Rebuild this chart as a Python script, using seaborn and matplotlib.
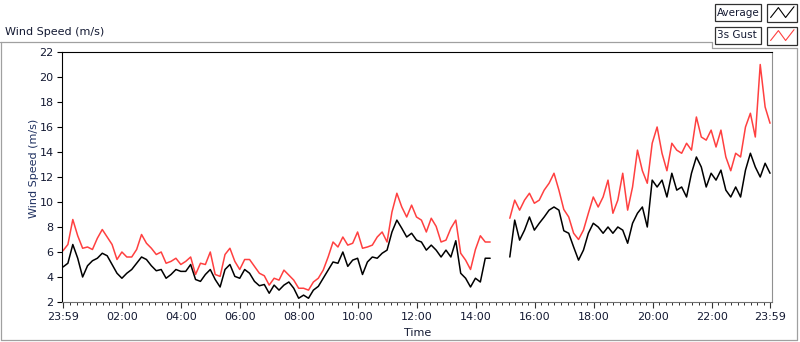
import numpy as np
import pandas as pd
import matplotlib
matplotlib.use("Agg")
import matplotlib.pyplot as plt
import seaborn as sns
from matplotlib.lines import Line2D
from matplotlib.patches import Rectangle
from matplotlib.ticker import FixedLocator

# readings every 10 min, minutes counted from 23:59 (nan = logger gap)
minutes = list(range(0, 1441, 10))

gust = [
    6.1, 6.6, 8.6, 7.3, 6.3, 6.4, 6.2, 7.1, 7.8, 7.2, 6.6, 5.4,
    6.0, 5.6, 5.6, 6.2, 7.4, 6.7, 6.3, 5.8, 6.0, 5.1, 5.25, 5.5,
    5.0, 5.25, 5.6, 4.2, 5.1, 5.0, 6.0, 4.2, 4.05, 5.8, 6.3, 5.25,
    4.6, 5.4, 5.4, 4.85, 4.3, 4.1, 3.35, 3.9, 3.75, 4.55, 4.15, 3.75,
    3.1, 3.1, 2.95, 3.6, 3.9, 4.55, 5.6, 6.8, 6.4, 7.2, 6.55, 6.7,
    7.6, 6.3, 6.4, 6.55, 7.2, 7.6, 6.8, 9.2, 10.7, 9.6, 8.8, 9.75,
    8.8, 8.55, 7.6, 8.7, 8.05, 6.8, 6.95, 7.9, 8.55, 5.9, 5.35, 4.6,
    6.2, 7.3, 6.8, 6.8, np.nan, np.nan, np.nan, 8.7, 10.15, 9.35, 10.15, 10.7,
    9.9, 10.15, 10.95, 11.5, 12.3, 10.95, 9.4, 8.8, 7.5, 7.0, 7.75, 9.1,
    10.4, 9.6, 10.4, 11.75, 9.1, 10.15, 12.3, 9.35, 11.2, 14.15, 12.5, 11.5,
    14.7, 16.0, 13.9, 12.5, 14.7, 14.15, 13.9, 14.7, 14.15, 16.8, 15.2, 14.95,
    15.75, 14.4, 15.75, 13.6, 12.5, 13.9, 13.6, 16.0, 17.1, 15.2, 21.0, 17.6,
    16.3,
]

average = [
    4.8, 5.1, 6.6, 5.5, 4.0, 4.9, 5.3, 5.5, 5.9, 5.7, 5.0, 4.3,
    3.9, 4.3, 4.6, 5.1, 5.6, 5.4, 4.9, 4.5, 4.6, 3.9, 4.2, 4.6,
    4.45, 4.45, 5.0, 3.8, 3.65, 4.2, 4.6, 3.8, 3.2, 4.6, 5.0, 4.05,
    3.9, 4.6, 4.3, 3.65, 3.3, 3.4, 2.7, 3.35, 2.95, 3.35, 3.6, 3.1,
    2.3, 2.55, 2.3, 2.95, 3.25, 3.9, 4.55, 5.2, 5.1, 6.0, 4.85, 5.35,
    5.5, 4.2, 5.2, 5.6, 5.5, 5.9, 6.15, 7.6, 8.55, 7.9, 7.2, 7.5,
    6.95, 6.8, 6.15, 6.55, 6.15, 5.6, 6.15, 5.6, 6.9, 4.3, 3.9, 3.2,
    3.9, 3.6, 5.5, 5.5, np.nan, np.nan, np.nan, 5.6, 8.55, 6.95, 7.75, 8.8,
    7.75, 8.3, 8.8, 9.35, 9.6, 9.35, 7.7, 7.5, 6.4, 5.35, 6.15, 7.5,
    8.3, 8.0, 7.5, 8.0, 7.5, 8.0, 7.75, 6.7, 8.3, 9.1, 9.6, 8.0,
    11.75, 11.2, 11.75, 10.4, 12.3, 10.95, 11.2, 10.4, 12.3, 13.6, 12.8, 11.2,
    12.3, 11.75, 12.55, 10.95, 10.4, 11.2, 10.4, 12.55, 13.9, 12.8, 12.0, 13.1,
    12.3,
]

tick_minutes = [0, 121, 241, 361, 481, 601, 721, 841, 961, 1081, 1201, 1321, 1440]
tick_labels = ["23:59", "02:00", "04:00", "06:00", "08:00", "10:00", "12:00",
               "14:00", "16:00", "18:00", "20:00", "22:00", "23:59"]

RED = "#ff4040"
TXT = "#141a33"
W, H = 800, 342

sns.set_theme(style="white")
plt.rcParams['font.family'] = ['DejaVu Sans']


def fx(px):
    return px / W


def fy(py):
    return 1 - py / H


df = pd.DataFrame({"minute": minutes, "gust": gust, "average": average})
df["seg"] = df["gust"].isna().cumsum()
df = df.dropna()

fig = plt.figure(figsize=(W / 100, H / 100), dpi=100)
ax = fig.add_axes([fx(62), fy(302), fx(710), 250 / H])

sns.lineplot(data=df, x="minute", y="gust", units="seg", estimator=None,
             color=RED, lw=1.1, ax=ax, legend=False)
sns.lineplot(data=df, x="minute", y="average", units="seg", estimator=None,
             color="black", lw=1.1, ax=ax, legend=False)

ax.set_xlim(-2, 1444)
ax.set_ylim(2, 22)
ax.set_yticks(range(2, 23, 2))
ax.set_xticks(tick_minutes, tick_labels)
ax.xaxis.set_minor_locator(FixedLocator(np.arange(1, 1441, 120 / 9)))

ax.tick_params(axis="y", which="major", direction="out", length=3.5, width=0.8,
               color="black", pad=2.5, labelsize=8, labelcolor=TXT, left=True)
ax.tick_params(axis="x", which="major", direction="out", length=4.5, width=0.8,
               color="#333333", pad=2.5, labelsize=8, labelcolor=TXT, bottom=True)
ax.tick_params(axis="x", which="minor", direction="out", length=2.5, width=0.7,
               color="#333333", bottom=True)

for side, col in [("top", "black"), ("left", "black"),
                  ("right", "#909090"), ("bottom", "#707070")]:
    ax.spines[side].set_visible(True)
    ax.spines[side].set_color(col)
    ax.spines[side].set_linewidth(0.8)

ax.set_xlabel("Time", fontsize=8, color=TXT)
ax.set_ylabel("Wind Speed (m/s)", fontsize=8, color="#1f3060")
ax.xaxis.set_label_coords(0.501, -0.105)
ax.yaxis.set_label_coords(-0.033, 0.535)
ax.grid(False)

# outer panel frame
frame = [((0, 42), (712, 42)), ((712, 42), (712, 48)), ((712, 48), (797, 48)),
         ((797, 48), (797, 340)), ((1, 340), (797, 340)), ((1, 42), (1, 340))]
for (x0, y0), (x1, y1) in frame:
    fig.add_artist(Line2D([fx(x0), fx(x1)], [fy(y0), fy(y1)], color="#a0a0a0",
                          lw=0.9, transform=fig.transFigure))

fig.text(fx(5), fy(32), "Wind Speed (m/s)", fontsize=8, color=TXT,
         ha="left", va="center")

# legend boxes, LabVIEW style
for name, col, top in [("Average", "black", 4), ("3s Gust", RED, 27)]:
    fig.add_artist(Rectangle((fx(715), fy(top + 17)), fx(46), 17 / H,
                             transform=fig.transFigure, facecolor="white",
                             edgecolor="#303030", lw=0.9, zorder=0.5))
    fig.text(fx(717), fy(top + 8.5), name, fontsize=7.5, color=TXT,
             ha="left", va="center")
    fig.add_artist(Rectangle((fx(767), fy(top + 18)), fx(30), 18 / H,
                             transform=fig.transFigure, facecolor="white",
                             edgecolor="#303030", lw=0.9, zorder=0.5))
    gl = fig.add_axes([fx(767), fy(top + 18), fx(30), 18 / H])
    gl.set_zorder(3)
    gl.patch.set_alpha(0)
    gl.plot([0.12, 0.38, 0.62, 0.9], [0.25, 0.8, 0.25, 0.85], color=col, lw=0.8)
    gl.set_xlim(0, 1)
    gl.set_ylim(0, 1)
    gl.axis("off")

fig.savefig("out.png", dpi=100)
